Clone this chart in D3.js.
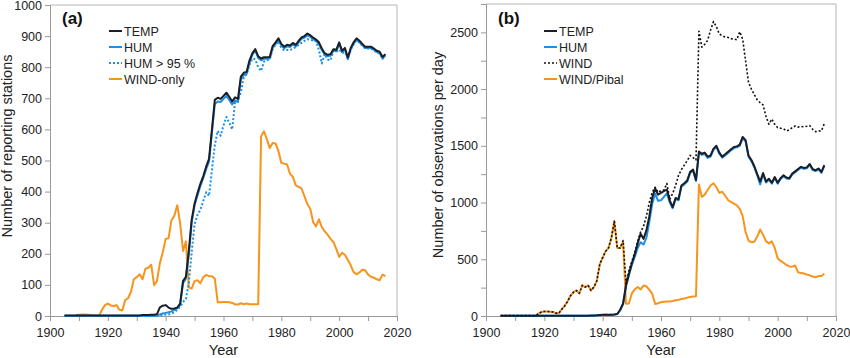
<!DOCTYPE html>
<html>
<head>
<meta charset="utf-8">
<script src="https://cdn.jsdelivr.net/npm/d3@7"></script>
<style>
  html, body { margin: 0; padding: 0; background: #fff; }
  svg { display: block; font-family: "Liberation Sans", Arial, sans-serif; }
</style>
</head>
<body>
<svg id="chart" width="850" height="358"></svg>
<script>
// ---------- categories ----------
const years = d3.range(1905, 2017); // 1905 .. 2016

// ---------- panel (a): number of reporting stations ----------
const tempA = [
  2,2,2,2,2,2,2,2,2,2, 2,2,2,2,2,2,2,2,2,2,        // 1905-1924
  2,2,2,2,2,2,2,3,3,3, 4,4,6,28,33,35,27,23,24,27, // 1925-1944
  40,112,126,210,310,362,395,425,450,480,          // 1945-1954
  505,600,695,702,698,708,718,705,690,703,         // 1955-1964
  698,770,782,785,822,845,858,835,828,832,         // 1965-1974
  832,833,868,880,893,875,866,872,870,878,         // 1975-1984
  872,885,896,900,908,903,895,889,880,860,         // 1985-1994
  845,840,842,858,856,880,853,862,831,862,         // 1995-2004
  880,893,885,875,866,866,866,860,853,850,         // 2005-2014
  833,842                                          // 2015-2016
];
const humA = [
  1,1,1,1,1,1,1,1,1,1, 1,1,1,1,1,1,1,1,1,1,
  1,1,1,1,1,1,1,1,1,1, 1,1,1,5,8,10,12,15,20,25,
  35,105,120,195,300,355,388,418,443,472,
  497,590,682,690,688,698,708,695,680,693,
  688,760,775,778,815,840,853,830,822,827,
  827,828,863,875,888,870,861,867,865,873,
  867,880,891,895,903,898,890,884,875,855,
  840,835,837,853,851,875,848,857,826,858,
  876,889,881,871,862,862,862,856,849,846,
  829,838
];
const hum95A = [
  0,0,0,0,0,0,0,0,0,0, 0,0,0,0,0,0,0,0,0,0,
  0,0,0,0,0,0,0,0,0,0, 0,0,0,2,3,5,5,8,12,20,
  30,45,55,105,205,295,325,342,370,398,
  386,470,550,595,580,612,640,622,600,688,
  690,720,768,778,808,828,825,800,788,818,
  822,826,858,872,883,862,855,855,855,860,
  865,872,878,885,890,888,886,884,855,812,
  842,825,822,852,850,857,846,848,828,856,
  874,887,879,869,860,860,860,854,847,844,
  827,836
];
const windOnlyA = [
  null,null,null,null,3,4,5,5,4,3, 2,2,2,20,35,40,34,32,35,20,
  18,51,57,78,118,125,134,118,152,155, 165,99,113,170,205,248,250,308,322,356,
  299,209,240,92,88,112,115,105,125,132,
  128,128,120,44,44,45,45,44,42,37,
  37,41,38,40,38,38,38,38,578,594,
  568,540,556,555,530,492,490,487,457,447,
  420,415,410,385,360,345,302,288,311,286,
  272,262,248,238,216,190,203,197,180,163,
  141,134,140,149,147,133,126,123,118,115,
  133,128
];

// ---------- panel (b): number of observations per day ----------
const tempB = [
  3,3,3,3,3,3,3,3,3,3, 3,3,3,3,3,3,3,3,3,3,
  3,3,3,3,3,3,3,3,3,3, 3,4,5,6,8,10,12,10,12,14,
  18,55,110,270,370,465,545,640,725,680,
  755,880,1045,1125,1070,1085,1100,1115,1020,960,
  1040,1030,1150,1170,1195,1270,1290,1200,1450,1430,
  1440,1405,1415,1475,1500,1440,1405,1425,1447,1470,
  1490,1495,1510,1578,1550,1415,1375,1320,1250,1185,
  1260,1185,1210,1175,1225,1175,1215,1240,1220,1215,
  1255,1275,1295,1315,1305,1310,1340,1295,1285,1300,
  1270,1330
];
const humB = [
  2,2,2,2,2,2,2,2,2,2, 2,2,2,2,2,2,2,2,2,2,
  2,2,2,2,2,2,2,2,2,2, 2,3,4,5,7,9,11,9,11,13,
  17,50,105,260,360,450,520,600,650,630,
  690,830,990,1080,1015,1020,1050,1080,1000,950,
  1030,1020,1140,1160,1185,1260,1280,1190,1435,1420,
  1428,1393,1405,1465,1490,1430,1395,1415,1437,1460,
  1480,1487,1500,1568,1540,1405,1365,1310,1240,1160,
  1252,1177,1202,1167,1217,1167,1207,1232,1212,1207,
  1247,1267,1287,1307,1297,1302,1332,1287,1277,1292,
  1262,1322
];
const windB = [
  3,3,3,3,3,3,3,3,3,3, 3,3,3,20,35,40,40,38,35,25,
  25,60,90,130,180,210,225,200,270,255, 270,225,255,310,455,515,570,600,690,835,
  600,600,665,290,400,480,560,660,740,790,
  880,1000,1090,1135,1090,1105,1110,1168,1030,1080,
  1150,1240,1290,1330,1370,1415,1395,1375,2510,2370,
  2395,2430,2520,2595,2550,2485,2470,2460,2455,2445,
  2440,2435,2505,2440,2250,2060,2000,1950,1905,1880,
  1860,1760,1690,1735,1690,1660,1655,1650,1632,1640,
  1660,1675,1665,1670,1668,1672,1678,1645,1625,1630,
  1632,1695
];
const windPibalB = [
  null,null,null,null,null,null,null,null,null,null, null,null,3,20,35,40,40,38,35,25,
  25,60,90,130,180,210,225,200,270,255, 270,225,255,310,455,515,570,600,690,835,
  600,600,655,108,110,200,235,255,235,268,
  262,230,195,105,112,122,125,127,128,132,
  138,142,150,155,162,168,172,175,1160,1050,
  1070,1110,1150,1170,1135,1085,1095,1060,1022,1005,
  990,975,945,880,740,665,650,655,700,762,
  715,660,640,658,600,508,485,470,450,437,
  435,445,385,378,375,365,358,348,342,352,
  352,372
];

// ---------- tick labels ----------
const xTicks = [1900, 1910, 1920, 1930, 1940, 1950, 1960, 1970, 1980, 1990, 2000, 2010, 2020];
const xLabels = [1900, 1920, 1940, 1960, 1980, 2000, 2020];
const yTicksA = [0, 100, 200, 300, 400, 500, 600, 700, 800, 900, 1000];
const yLabelsA = yTicksA;
const yTicksB = [0, 250, 500, 750, 1000, 1250, 1500, 1750, 2000, 2250, 2500];
const yLabelsB = [0, 500, 1000, 1500, 2000, 2500];

// ---------- styles ----------
const C_TEMP = "#1b1e26";
const C_HUM = "#1f8fe3";
const C_ORANGE = "#f7941d";
const C_AXIS = "#9a9a9a";
const C_TEXT = "#222";

const svg = d3.select("#chart");

function panel(opt) {
  const x = d3.scaleLinear().domain([1900, 2020]).range([opt.left, opt.right]);
  const y = d3.scaleLinear().domain([0, opt.ymax]).range([opt.bottom, opt.top]);
  const g = svg.append("g");

  // frame (top and right)
  g.append("path")
    .attr("d", `M${opt.left},${opt.top}H${opt.right}V${opt.bottom}`)
    .attr("fill", "none").attr("stroke", "#b4b4b4").attr("stroke-width", 1);

  const xa = g.append("g").attr("transform", `translate(0,${opt.bottom})`)
    .call(d3.axisBottom(x).tickValues(xTicks).tickSize(5).tickPadding(7)
      .tickFormat(d => xLabels.includes(d) ? String(d) : ""));
  const ya = g.append("g").attr("transform", `translate(${opt.left},0)`)
    .call(d3.axisLeft(y).tickValues(opt.yTicks).tickSize(5).tickPadding(3)
      .tickFormat(d => opt.yLabels.includes(d) ? String(d) : ""));
  [xa, ya].forEach(a => {
    a.select(".domain").attr("stroke", C_AXIS);
    a.selectAll(".tick line").attr("stroke", C_AXIS);
    a.selectAll(".tick text").attr("fill", C_TEXT).style("font-size", "12.5px")
      .style("font-family", '"Liberation Sans", Arial, sans-serif');
  });

  // axis titles
  g.append("text").attr("x", (opt.left + opt.right) / 2).attr("y", 355)
    .attr("text-anchor", "middle").attr("fill", C_TEXT).style("font-size", "14.5px")
    .text("Year");
  g.append("text").attr("transform", `translate(${opt.ytx},${opt.ytcy}) rotate(-90)`)
    .attr("text-anchor", "middle").attr("fill", C_TEXT).style("font-size", "14.5px")
    .text(opt.ytitle);

  // panel label
  g.append("text").attr("x", opt.left + 12).attr("y", 24)
    .attr("fill", "#111").style("font-size", "17px").style("font-weight", "bold")
    .text(opt.label);

  // lines
  const clip = "clip" + opt.label.replace(/\W/g, "");
  svg.append("clipPath").attr("id", clip).append("rect")
    .attr("x", opt.left).attr("y", opt.top).attr("width", opt.right - opt.left).attr("height", opt.bottom - opt.top + 2);
  const lg = g.append("g").attr("clip-path", `url(#${clip})`);
  opt.series.forEach(s => {
    const line = d3.line().defined(d => d[1] != null)
      .x(d => x(d[0])).y(d => y(d[1]));
    lg.append("path").datum(years.map((yr, i) => [yr, s.values[i]]))
      .attr("d", line).attr("fill", "none")
      .attr("stroke", s.color).attr("stroke-width", s.width)
      .attr("stroke-dasharray", s.dash || null)
      .attr("stroke-linejoin", "round");
  });

  // legend
  const leg = g.append("g");
  opt.legend.forEach((s, i) => {
    const yy = 31 + i * 16;
    leg.append("line").attr("x1", opt.legx).attr("x2", opt.legx + 13)
      .attr("y1", yy).attr("y2", yy)
      .attr("stroke", s.color).attr("stroke-width", s.lw || s.width)
      .attr("stroke-dasharray", s.dash || null);
    leg.append("text").attr("x", opt.legx + 15).attr("y", yy).attr("dy", "0.36em")
      .attr("fill", C_TEXT).style("font-size", "12.5px").text(s.name);
  });
}

const sTempA = { name: "TEMP", values: tempA, color: C_TEMP, width: 2 };
const sHumA = { name: "HUM", values: humA, color: C_HUM, width: 2 };
const sHum95A = { name: "HUM > 95 %", values: hum95A, color: C_HUM, width: 2, dash: "2,2" };
const sWindA = { name: "WIND-only", values: windOnlyA, color: C_ORANGE, width: 2 };

panel({
  left: 50, right: 397, top: 5, bottom: 316, ymax: 1000,
  yTicks: yTicksA, yLabels: yLabelsA,
  ytitle: "Number of reporting stations", ytx: 12, ytcy: 146, label: "(a)", legx: 109,
  series: [sWindA, sHum95A, sHumA, sTempA],
  legend: [sTempA, sHumA, sHum95A, sWindA]
});

const sTempB = { name: "TEMP", values: tempB, color: C_TEMP, width: 2 };
const sHumB = { name: "HUM", values: humB, color: C_HUM, width: 2 };
const sWindB = { name: "WIND", values: windB, color: "#111", width: 1.6, dash: "2,2" };
const sPibalB = { name: "WIND/Pibal", values: windPibalB, color: C_ORANGE, width: 2 };

panel({
  left: 486, right: 836, top: 4, bottom: 316, ymax: 2750,
  yTicks: yTicksB, yLabels: yLabelsB,
  ytitle: "Number of observations per day", ytx: 443, ytcy: 155, label: "(b)", legx: 544,
  series: [sPibalB, sHumB, sTempB, sWindB],
  legend: [sTempB, sHumB, sWindB, sPibalB]
});
</script>
</body>
</html>
